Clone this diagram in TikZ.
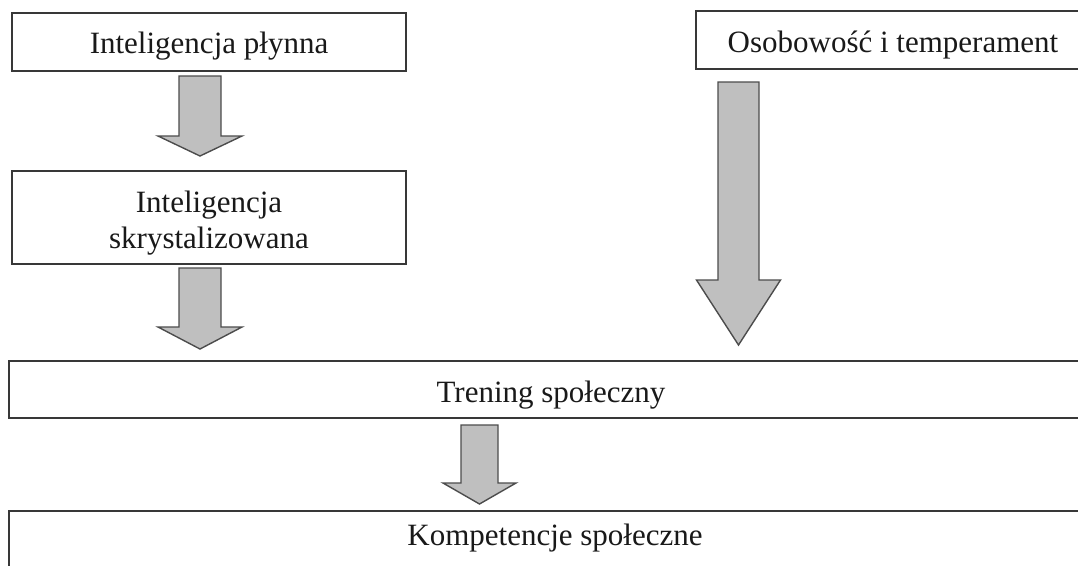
\documentclass[tikz,border=0pt]{standalone}
\usepackage{fontspec}
\setmainfont{Liberation Serif}
\begin{document}
\begin{tikzpicture}[x=1pt,y=-1pt,
  box/.style={draw=black!78, line width=1.6pt, fill=white, inner sep=0pt},
  lbl/.style={anchor=base, inner sep=0pt, font=\fontsize{31}{36}\selectfont, text=black!90},
  blockarrow/.style={draw=black!70, line width=1.4pt, fill=black!25, line join=miter}]
\useasboundingbox (0,0) rectangle (1078,565);
\clip (0,0) rectangle (1078,565);

% boxes (corner coordinates)
\node[box, minimum width=394pt, minimum height=58pt] (flu) at (209,42) {};
\node[box, minimum width=394pt, minimum height=93pt] (cry) at (209,217.5) {};
\node[box, minimum width=394pt, minimum height=58pt] (per) at (893,40) {};
\node[box, minimum width=1086pt, minimum height=57pt] (tr) at (552,389.5) {};
\node[box, minimum width=1094pt, minimum height=80pt] (kom) at (556,551) {};

% labels
\node[lbl] (tflu) at (209,53) {Inteligencja płynna};
\node[lbl] (tcry1) at (209,212) {Inteligencja};
\node[lbl] (tcry2) at (209,248) {skrystalizowana};
\node[lbl] (tper) at (893,52) {Osobowość i temperament};
\node[lbl] (ttr) at (551,402) {Trening społeczny};
\node[lbl] (tkom) at (555,545) {Kompetencje społeczne};

% block arrows: #1 centre x, #2 top, #3 head base, #4 tip, #5 half shaft, #6 half head
\newcommand\blockarr[6]{%
  \draw[blockarrow] (#1-#5,#2) -- (#1+#5,#2) -- (#1+#5,#3) -- (#1+#6,#3)
    -- (#1,#4) -- (#1-#6,#3) -- (#1-#5,#3) -- cycle;}
\blockarr{200}{76}{136}{156}{21}{42}
\blockarr{200}{268}{327}{349}{21}{42}
\blockarr{738.5}{82}{280}{345}{20.5}{42}
\blockarr{479.5}{425}{483}{504}{18.5}{36.5}
\end{tikzpicture}
\end{document}
